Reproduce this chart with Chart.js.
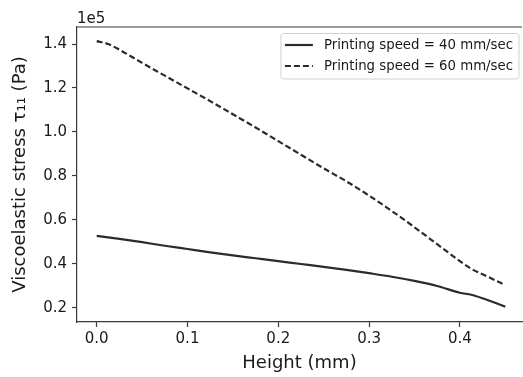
<!DOCTYPE html>
<html>
<head>
<meta charset="utf-8">
<script src="https://cdn.jsdelivr.net/npm/chart.js@4.4.0/dist/chart.umd.min.js"></script>
<style>
  html, body { margin: 0; padding: 0; background: #fff; }
</style>
</head>
<body>
<canvas id="stressChart" width="523" height="377"></canvas>
<script>
// data (stress values in units of 1e5 Pa)
const heights  = [0, 0.0125, 0.025, 0.05, 0.075, 0.1, 0.125, 0.15, 0.175, 0.2, 0.225, 0.25, 0.275, 0.3, 0.325, 0.35, 0.375, 0.4, 0.4125, 0.425, 0.45];
const stress40 = [0.527, 0.520, 0.513, 0.498, 0.482, 0.467, 0.452, 0.438, 0.425, 0.412, 0.399, 0.386, 0.372, 0.357, 0.341, 0.322, 0.299, 0.268, 0.259, 0.243, 0.205];
const stress60 = [1.413, 1.400, 1.374, 1.314, 1.256, 1.198, 1.140, 1.080, 1.020, 0.958, 0.896, 0.834, 0.775, 0.710, 0.640, 0.566, 0.489, 0.412, 0.377, 0.352, 0.303];
const seriesLabels = ['Printing speed = 40 mm/sec', 'Printing speed = 60 mm/sec'];
const xTicks = [0, 0.1, 0.2, 0.3, 0.4];
const yTicks = [0.2, 0.4, 0.6, 0.8, 1.0, 1.2, 1.4];
const yExponent = '1e5';

const axisColor = '#3a3a3a';
const textColor = '#1a1a1a';
const lineColor = '#2b2b2b';
const fontFamily = '"DejaVu Sans", sans-serif';

const toPoints = (ys) => heights.map((h, i) => ({ x: h, y: ys[i] }));

// top spine, offset label and boxed legend (matplotlib look)
const decorPlugin = {
  id: 'decor',
  afterDraw(chart) {
    const { ctx, chartArea: a } = chart;
    ctx.save();

    ctx.strokeStyle = axisColor;
    ctx.lineWidth = 1.2;
    ctx.beginPath();
    ctx.moveTo(a.left, a.top);
    ctx.lineTo(a.right, a.top);
    ctx.stroke();

    ctx.fillStyle = textColor;
    ctx.font = '15px ' + fontFamily;
    ctx.textAlign = 'left';
    ctx.textBaseline = 'alphabetic';
    ctx.fillText(yExponent, a.left, a.top - 4);

    // legend
    ctx.font = '13.3px ' + fontFamily;
    const textW = Math.max(...chart.data.datasets.map(d => ctx.measureText(d.label).width));
    const padL = 4, handle = 28, gap = 11, padR = 6;
    const boxW = padL + handle + gap + textW + padR;
    const boxH = 45.5;
    const bx = a.right - 3 - boxW;
    const by = a.top + 6.5;
    ctx.beginPath();
    ctx.roundRect(bx, by, boxW, boxH, 3);
    ctx.fillStyle = 'rgba(255,255,255,0.8)';
    ctx.fill();
    ctx.strokeStyle = '#d0d0d0';
    ctx.lineWidth = 1;
    ctx.stroke();

    chart.data.datasets.forEach((d, i) => {
      const cy = by + 11.5 + i * 21;
      ctx.strokeStyle = d.borderColor;
      ctx.lineWidth = d.borderWidth;
      ctx.setLineDash(d.borderDash || []);
      ctx.beginPath();
      ctx.moveTo(bx + padL, cy);
      ctx.lineTo(bx + padL + handle, cy);
      ctx.stroke();
      ctx.setLineDash([]);
      ctx.fillStyle = textColor;
      ctx.textBaseline = 'middle';
      ctx.fillText(d.label, bx + padL + handle + gap, cy + 0.5);
    });

    ctx.restore();
  }
};

const axisCommon = {
  type: 'linear',
  border: { display: true, color: axisColor, width: 1.2 },
  grid: { drawOnChartArea: false, drawTicks: true, tickLength: 5, tickColor: axisColor, tickWidth: 1.2 },
};

new Chart(document.getElementById('stressChart'), {
  type: 'line',
  data: {
    datasets: [
      {
        label: seriesLabels[0],
        data: toPoints(stress40),
        borderColor: lineColor,
        borderWidth: 2.2,
        pointRadius: 0,
        cubicInterpolationMode: 'monotone',
        fill: false
      },
      {
        label: seriesLabels[1],
        data: toPoints(stress60),
        borderColor: lineColor,
        borderWidth: 2.2,
        borderDash: [6, 3],
        pointRadius: 0,
        cubicInterpolationMode: 'monotone',
        fill: false
      }
    ]
  },
  options: {
    responsive: false,
    animation: false,
    devicePixelRatio: 1,
    layout: { padding: { top: 27, right: 1, left: 0, bottom: 0 } },
    plugins: {
      legend: { display: false },
      tooltip: { enabled: false }
    },
    scales: {
      x: {
        ...axisCommon,
        min: -0.0217,
        max: 0.4684,
        afterBuildTicks: (s) => { s.ticks = xTicks.map(v => ({ value: v })); },
        afterFit: (s) => { s.height = 55; },
        ticks: {
          color: textColor,
          font: { family: fontFamily, size: 15 },
          padding: 3,
          maxRotation: 0,
          callback: (v) => Number(v).toFixed(1)
        },
        title: {
          display: true,
          text: 'Height (mm)',
          color: textColor,
          font: { family: fontFamily, size: 18 },
          padding: { top: 0, bottom: 3 }
        }
      },
      y: {
        ...axisCommon,
        min: 0.1349,
        max: 1.4774,
        afterBuildTicks: (s) => { s.ticks = yTicks.map(v => ({ value: v })); },
        afterFit: (s) => { s.width = 77; },
        ticks: {
          color: textColor,
          font: { family: fontFamily, size: 15 },
          padding: 5,
          callback: (v) => Number(v).toFixed(1)
        },
        title: {
          display: true,
          text: 'Viscoelastic stress \u03C4\u2081\u2081 (Pa)',
          color: textColor,
          font: { family: fontFamily, size: 18 },
          padding: { top: 10, bottom: 0 }
        }
      }
    }
  },
  plugins: [decorPlugin]
});
</script>
</body>
</html>
